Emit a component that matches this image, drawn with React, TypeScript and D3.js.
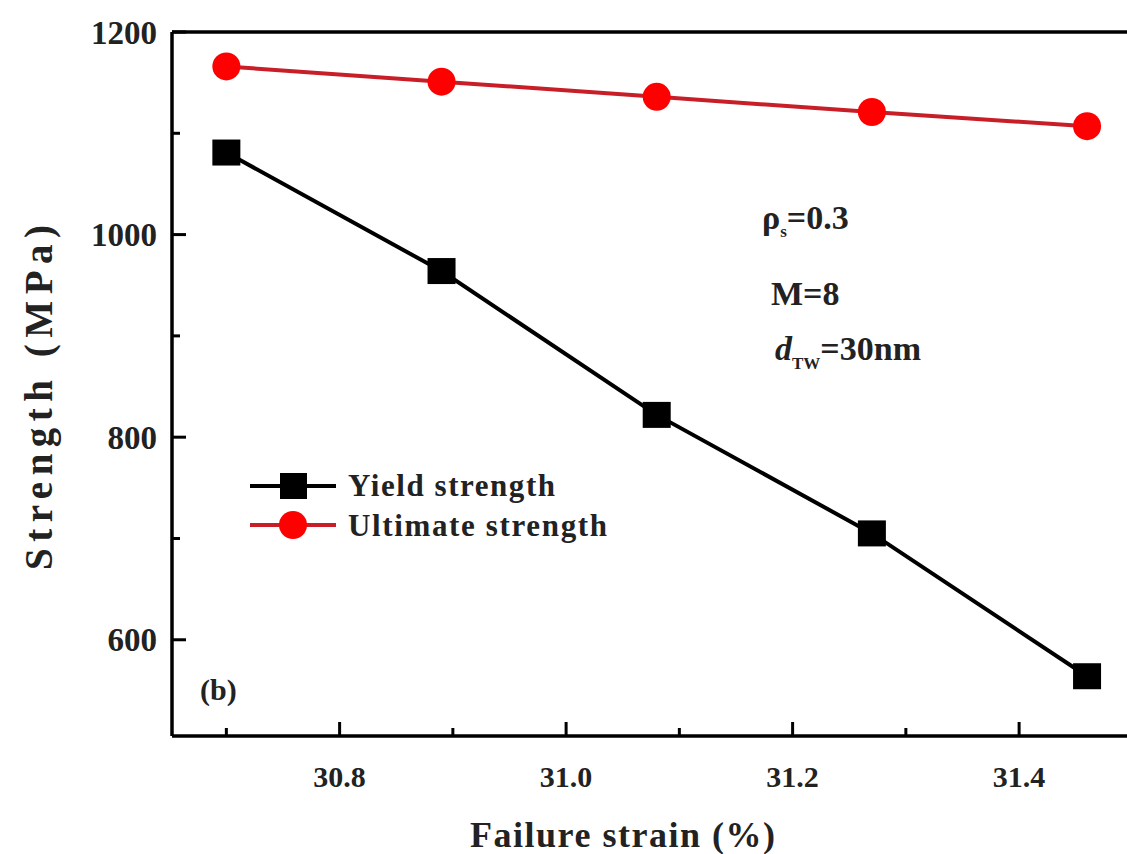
import { useMemo } from 'react';
import * as d3 from 'd3';

const strain = [30.70, 30.89, 31.08, 31.27, 31.46];
const yieldStrength = [1081, 964, 822, 705, 564];
const ultimateStrength = [1166, 1151, 1136, 1121, 1107];
const xTicks = [30.8, 31.0, 31.2, 31.4];
const xMinorTicks = [30.7, 30.9, 31.1, 31.3];
const yTicks = [600, 800, 1000, 1200];
const yMinorTicks = [700, 900, 1100];

const W = 1127;
const H = 854;
const FONT = '"Liberation Serif", "DejaVu Serif", serif';

export default function App() {
  const x = useMemo(() => d3.scaleLinear().domain([30.652, 31.5]).range([172, 172 + 0.848 * 1132.5]), []);
  const y = useMemo(() => d3.scaleLinear().domain([505, 1200]).range([736, 32]), []);

  const line = d3.line<[number, number]>()
    .x(d => x(d[0]))
    .y(d => y(d[1]));

  const yieldPts = strain.map((s, i) => [s, yieldStrength[i]] as [number, number]);
  const ultPts = strain.map((s, i) => [s, ultimateStrength[i]] as [number, number]);

  const left = x.range()[0];
  const bottom = y.range()[0];
  const top = y.range()[1];

  return (
    <div style={{ position: 'absolute', left: 0, top: 0 }}>
      <svg width={W} height={H} style={{ display: 'block', background: '#fff' }}>
        {/* frame */}
        <g stroke="#000" strokeWidth={3.5} fill="none">
          <line x1={left} x2={W} y1={top} y2={top} />
          <line x1={left} x2={left} y1={top} y2={bottom} />
          <line x1={left} x2={W} y1={bottom} y2={bottom} />
        </g>

        {/* y ticks, inward */}
        <g stroke="#000" strokeWidth={3}>
          {yTicks.map(t => (
            <line key={t} x1={left} x2={left + 14} y1={y(t)} y2={y(t)} />
          ))}
          {yMinorTicks.map(t => (
            <line key={t} x1={left} x2={left + 8} y1={y(t)} y2={y(t)} />
          ))}
        </g>
        <g fontFamily={FONT} fontWeight="bold" fontSize={33} fill="#222" textAnchor="end">
          {yTicks.map(t => (
            <text key={t} x={157} y={y(t)} dy="0.35em">{t}</text>
          ))}
        </g>

        {/* x ticks, inward */}
        <g stroke="#000" strokeWidth={3}>
          {xTicks.map(t => (
            <line key={t} x1={x(t)} x2={x(t)} y1={bottom} y2={bottom - 14} />
          ))}
          {xMinorTicks.map(t => (
            <line key={t} x1={x(t)} x2={x(t)} y1={bottom} y2={bottom - 8} />
          ))}
        </g>
        <g fontFamily={FONT} fontWeight="bold" fontSize={30} fill="#222" textAnchor="middle">
          {xTicks.map(t => (
            <text key={t} x={x(t)} y={787}>{t.toFixed(1)}</text>
          ))}
        </g>

        {/* axis titles */}
        <text x={470} y={847} textLength={305} lengthAdjust="spacing"
          fontFamily={FONT} fontWeight="bold" fontSize={36} fill="#222">
          Failure strain (%)
        </text>
        <text transform="translate(52,570) rotate(-90)" textLength={345} lengthAdjust="spacing"
          fontFamily={FONT} fontWeight="bold" fontSize={39} fill="#222">
          Strength (MPa)
        </text>

        {/* series */}
        <path d={line(yieldPts) || ''} fill="none" stroke="#000" strokeWidth={4} />
        <path d={line(ultPts) || ''} fill="none" stroke="#c81e28" strokeWidth={4} />
        {yieldPts.map((p, i) => (
          <rect key={i} x={x(p[0]) - 14} y={y(p[1]) - 13} width={28} height={26} fill="#000" />
        ))}
        {ultPts.map((p, i) => (
          <circle key={i} cx={x(p[0])} cy={y(p[1])} r={14} fill="#ff0000" />
        ))}

        {/* legend */}
        <line x1={250} x2={336} y1={486} y2={486} stroke="#000" strokeWidth={4} />
        <rect x={280} y={473} width={27} height={26} fill="#000" />
        <line x1={250} x2={336} y1={525} y2={525} stroke="#c81e28" strokeWidth={4} />
        <circle cx={293} cy={525} r={14} fill="#ff0000" />
        <g fontFamily={FONT} fontWeight="bold" fontSize={31} fill="#222" lengthAdjust="spacing">
          <text x={348} y={496} textLength={207}>Yield strength</text>
          <text x={348} y={536} textLength={259}>Ultimate strength</text>
        </g>

        {/* annotations */}
        <g fontFamily={FONT} fontWeight="bold" fontSize={34} fill="#222">
          <text x={762} y={229}>
            ρ<tspan fontSize={17} dy={8}>s</tspan><tspan dy={-8}>=0.3</tspan>
          </text>
          <text x={771} y={305}>M=8</text>
          <text x={775} y={360}>
            <tspan fontStyle="italic">d</tspan><tspan fontSize={17} dy={9}>TW</tspan><tspan dy={-9}>=30nm</tspan>
          </text>
          <text x={200} y={700} fontSize={30}>(b)</text>
        </g>
      </svg>
    </div>
  );
}
